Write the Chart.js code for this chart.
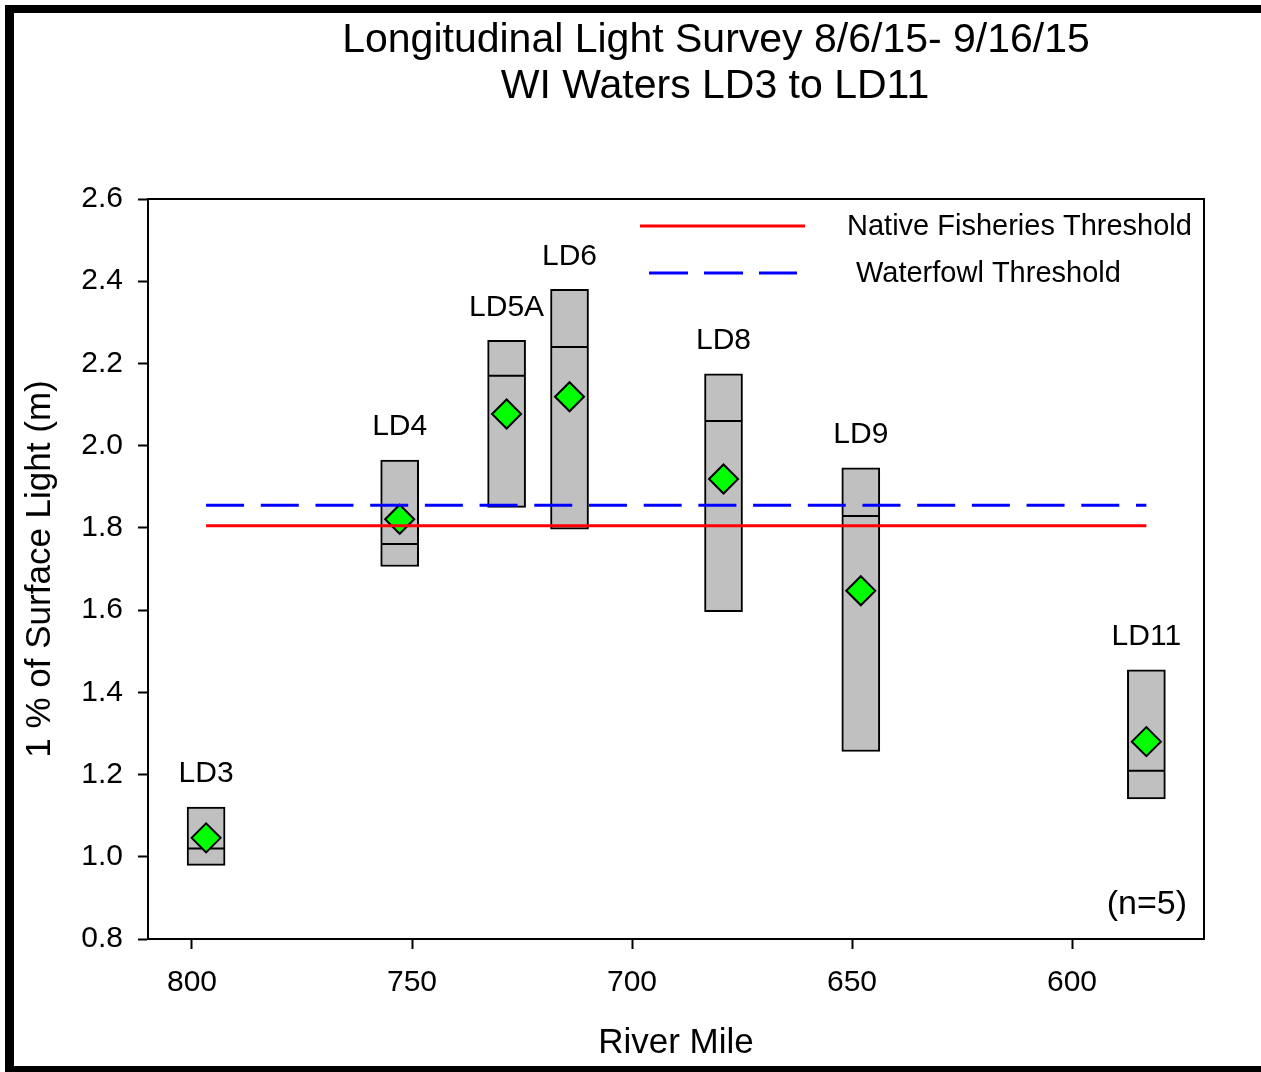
<!DOCTYPE html>
<html>
<head>
<meta charset="utf-8">
<script src="https://cdn.jsdelivr.net/npm/chart.js@4/dist/chart.umd.min.js"></script>
<style>
html,body{margin:0;padding:0;background:#fff;}
#wrap{width:1261px;height:1072px;position:relative;}
</style>
</head>
<body>
<div id="wrap"><canvas id="c" width="1261" height="1072"></canvas></div>
<script>
// ---- data ----
const sites = ['LD3', 'LD4', 'LD5A', 'LD6', 'LD8', 'LD9', 'LD11'];
const riverMile = [796.8, 752.8, 728.5, 714.2, 679.2, 648.0, 583.1];
const boxLow = [0.979, 1.706, 1.850, 1.797, 1.596, 1.256, 1.141];
const boxHigh = [1.121, 1.965, 2.256, 2.380, 2.175, 1.946, 1.455];
const medians = [1.020, 1.761, 2.170, 2.240, 2.060, 1.829, 1.209];
const means = [1.046, 1.821, 2.077, 2.119, 1.919, 1.647, 1.280];
const nativeFisheriesThreshold = 1.805;
const waterfowlThreshold = 1.855;
const xTicks = [800, 750, 700, 650, 600];
const yTicks = [0.8, 1.0, 1.2, 1.4, 1.6, 1.8, 2.0, 2.2, 2.4, 2.6];
const titleLines = ['Longitudinal Light Survey 8/6/15- 9/16/15', 'WI Waters LD3 to LD11'];
const legendLabels = ['Native Fisheries Threshold', 'Waterfowl Threshold'];
const sampleNote = '(n=5)';

const FONT = '"Liberation Sans", Arial, Helvetica, sans-serif';
Chart.defaults.font.family = FONT;
Chart.defaults.color = '#000';

const first = 0, last = riverMile.length - 1;
const boxData = riverMile.map((m, i) => ({x: m, y: [boxLow[i], boxHigh[i]]}));
const medianData = riverMile.map((m, i) => ({x: m, y: medians[i]}));
const meanData = riverMile.map((m, i) => ({x: m, y: means[i]}));

const decor = {
  id: 'decor',
  beforeDatasetsDraw(chart) {
    const {ctx, chartArea: a} = chart;
    ctx.save();
    ctx.strokeStyle = '#000';
    ctx.lineWidth = 2;
    ctx.strokeRect(a.left, a.top, a.right - a.left, a.bottom - a.top);
    ctx.restore();
  },
  afterDraw(chart) {
    const {ctx} = chart;
    const xs = chart.scales.x, ys = chart.scales.y;
    ctx.save();
    // outer frame
    ctx.fillStyle = '#000';
    ctx.fillRect(5, 5, 1256, 8);
    ctx.fillRect(5, 5, 9, 1067);
    ctx.fillRect(5, 1066, 1256, 8);
    // title
    ctx.fillStyle = '#000';
    ctx.textAlign = 'center';
    ctx.textBaseline = 'middle';
    ctx.font = '41px ' + FONT;
    ctx.fillText(titleLines[0], 716, 41);
    ctx.fillText(titleLines[1], 715, 87);
    // site labels
    ctx.font = '30px ' + FONT;
    sites.forEach((s, i) => {
      const px = xs.getPixelForValue(riverMile[i]);
      const py = ys.getPixelForValue(boxHigh[i]) - 33;
      ctx.fillText(s, px, py);
    });
    // legend
    ctx.font = '29px ' + FONT;
    ctx.textAlign = 'left';
    ctx.lineWidth = 3;
    ctx.strokeStyle = '#ff0000';
    ctx.beginPath(); ctx.moveTo(640, 226); ctx.lineTo(805, 226); ctx.stroke();
    ctx.strokeStyle = '#0000ff';
    ctx.setLineDash([39, 16]);
    ctx.beginPath(); ctx.moveTo(649, 273); ctx.lineTo(797, 273); ctx.stroke();
    ctx.setLineDash([]);
    ctx.fillText(legendLabels[0], 847, 227);
    ctx.fillText(legendLabels[1], 856, 274);
    // n note
    ctx.font = '34px ' + FONT;
    ctx.textAlign = 'right';
    ctx.fillText(sampleNote, 1187, 905);
    ctx.restore();
  }
};

const tickFont = {family: FONT, size: 30};
const titleFont = {family: FONT, size: 35, lineHeight: 1.2};

new Chart(document.getElementById('c'), {
  type: 'bar',
  data: {
    datasets: [
      {
        type: 'line', label: legendLabels[0],
        data: [{x: riverMile[first], y: nativeFisheriesThreshold}, {x: riverMile[last], y: nativeFisheriesThreshold}],
        borderColor: '#ff0000', borderWidth: 3, pointRadius: 0, fill: false, order: 0
      },
      {
        type: 'line', label: legendLabels[1],
        data: [{x: riverMile[first], y: waterfowlThreshold}, {x: riverMile[last], y: waterfowlThreshold}],
        borderColor: '#0000ff', borderWidth: 3, borderDash: [38, 16.7], pointRadius: 0, fill: false, order: 0
      },
      {
        type: 'scatter', label: 'Mean', data: meanData,
        pointStyle: 'rectRot', pointRadius: 14.5, backgroundColor: '#00ff00',
        borderColor: '#000', borderWidth: 2, showLine: false, order: 1
      },
      {
        type: 'scatter', label: 'Median', data: medianData,
        pointStyle: 'line', pointRadius: 18, borderColor: '#000', borderWidth: 2,
        showLine: false, order: 2
      },
      {
        type: 'bar', label: 'Range', data: boxData,
        backgroundColor: '#c0c0c0', borderColor: '#000', borderWidth: 2,
        borderSkipped: false, barThickness: 38, grouped: false, order: 3
      }
    ]
  },
  options: {
    responsive: false,
    devicePixelRatio: 1,
    animation: false,
    events: [],
    layout: {padding: {left: 0, top: 199, right: 57, bottom: 0}},
    plugins: {legend: {display: false}, tooltip: {enabled: false}, title: {display: false}},
    scales: {
      x: {
        type: 'linear', position: 'bottom', reverse: true, min: 570, max: 810, offset: false,
        afterBuildTicks: s => { s.ticks = xTicks.map(v => ({value: v})); },
        afterFit: s => { s.height = 133; },
        grid: {display: true, drawOnChartArea: false, drawTicks: true, tickLength: 10, tickColor: '#000', tickWidth: 2, offset: false},
        border: {display: true, color: '#000', width: 2},
        ticks: {color: '#000', font: tickFont, padding: 16, maxRotation: 0, autoSkip: false},
        title: {display: true, text: 'River Mile', color: '#000', font: titleFont, padding: {top: 0, bottom: 8}}
      },
      y: {
        type: 'linear', position: 'left', min: 0.8, max: 2.6, offset: false,
        afterBuildTicks: s => { s.ticks = yTicks.map(v => ({value: v})); },
        afterFit: s => { s.width = 148; },
        grid: {display: true, drawOnChartArea: false, drawTicks: true, tickLength: 10, tickColor: '#000', tickWidth: 2},
        border: {display: true, color: '#000', width: 2},
        ticks: {color: '#000', font: tickFont, padding: 15, callback: v => Number(v).toFixed(1), autoSkip: false},
        title: {display: true, text: '1 % of Surface Light (m)', color: '#000', font: titleFont, padding: {top: 19, bottom: 0}}
      }
    }
  },
  plugins: [decor]
});
</script>
</body>
</html>
